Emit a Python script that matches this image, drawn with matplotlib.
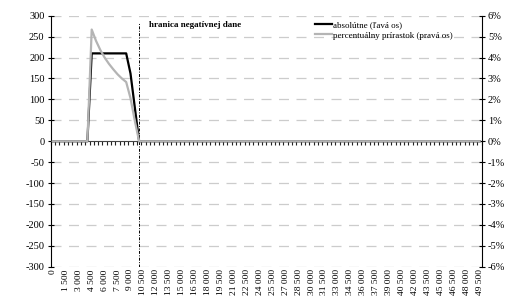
import numpy as np
import matplotlib
matplotlib.use('Agg')
import matplotlib.pyplot as plt

plt.rcParams['font.family'] = ['Liberation Serif', 'DejaVu Serif']

# prijem po 500 (0 .. 49 500)
prijem = list(range(0, 50000, 500))

# absolutne (lava os)
absolutne = [0, 0, 0, 0, 0, 0, 0, 0, 0, 210, 210, 210, 210, 210, 210, 210, 210, 210, 162, 81,
             0, 0, 0, 0, 0, 0, 0, 0, 0, 0, 0, 0, 0, 0, 0, 0, 0, 0, 0, 0,
             0, 0, 0, 0, 0, 0, 0, 0, 0, 0, 0, 0, 0, 0, 0, 0, 0, 0, 0, 0,
             0, 0, 0, 0, 0, 0, 0, 0, 0, 0, 0, 0, 0, 0, 0, 0, 0, 0, 0, 0,
             0, 0, 0, 0, 0, 0, 0, 0, 0, 0, 0, 0, 0, 0, 0, 0, 0, 0, 0, 0]

# percentualny prirastok (prava os), v %
percenta = [0, 0, 0, 0, 0, 0, 0, 0, 0, 5.34, 4.8, 4.36, 4.0, 3.7, 3.44, 3.2, 3.0, 2.83, 2.06, 0.98,
            0, 0, 0, 0, 0, 0, 0, 0, 0, 0, 0, 0, 0, 0, 0, 0, 0, 0, 0, 0,
            0, 0, 0, 0, 0, 0, 0, 0, 0, 0, 0, 0, 0, 0, 0, 0, 0, 0, 0, 0,
            0, 0, 0, 0, 0, 0, 0, 0, 0, 0, 0, 0, 0, 0, 0, 0, 0, 0, 0, 0,
            0, 0, 0, 0, 0, 0, 0, 0, 0, 0, 0, 0, 0, 0, 0, 0, 0, 0, 0, 0]

hranica = 10000  # hranica negativnej dane

x = np.arange(len(prijem))
fig = plt.figure(figsize=(5.18, 2.97), dpi=100)
ax = fig.add_axes([0.098, 0.102, 0.832, 0.845])
ax2 = ax.twinx()

# mriezka
for v in range(-300, 301, 50):
    if v != 0:
        ax.axhline(v, color='#cccccc', lw=0.9, dashes=(8, 6), zorder=0)

ax.plot(x, absolutne, color='black', lw=1.6, zorder=3, label='absolútne (ľavá os)')
ax2.plot(x, percenta, color='#b4b4b4', lw=1.6, zorder=4, label='percentuálny prírastok (pravá os)')

ih = prijem.index(hranica)
ax.vlines(ih, -300, 282, color='black', lw=0.7, linestyles=(0, (3, 1.5, 1, 1.5)), zorder=2)
ax.text(ih + 2.2, 279, 'hranica negatívnej dane', fontsize=6.5, fontweight='bold', va='center')

ax.set_xlim(-0.5, len(prijem) - 0.5)
ax.set_ylim(-300, 300)
ax2.set_ylim(-6, 6)

# osi
ax.spines['top'].set_visible(False)
ax.spines['right'].set_visible(False)
ax.spines['bottom'].set_position(('data', 0))
ax.spines['bottom'].set_color('#444444')
ax.spines['bottom'].set_linewidth(0.8)
ax2.spines['top'].set_visible(False)
ax2.spines['left'].set_visible(False)
ax2.spines['bottom'].set_visible(False)

ax.set_yticks(range(-300, 301, 50))
ax.set_yticklabels([str(v) for v in range(-300, 301, 50)], fontsize=7.5)
ax2.set_yticks(range(-6, 7))
ax2.set_yticklabels(['%d%%' % v for v in range(-6, 7)], fontsize=7.5)
ax.tick_params(axis='y', direction='inout', length=5, width=0.8, pad=2)
ax2.tick_params(axis='y', direction='inout', length=5, width=0.8, pad=2)

# x: ciarky na nulovej osi, popisky dole
ax.set_xticks(np.arange(-0.5, len(prijem), 1))
ax.set_xticklabels([])
ax.tick_params(axis='x', direction='out', length=3, width=0.8, color='#222222')
for i in range(0, len(prijem), 3):
    lab = '{:,}'.format(prijem[i]).replace(',', ' ')
    ax.text(i, -306, lab, rotation=90, ha='center', va='top', fontsize=6.8, clip_on=False)

h1, l1 = ax.get_legend_handles_labels()
h2, l2 = ax2.get_legend_handles_labels()
ax2.legend(h1 + h2, l1 + l2, loc='upper left', bbox_to_anchor=(0.6, 1.0), frameon=False,
           fontsize=6.5, handlelength=1.9, handletextpad=0.15, labelspacing=0.2, borderaxespad=0.2)

fig.savefig('out.png', dpi=100)
